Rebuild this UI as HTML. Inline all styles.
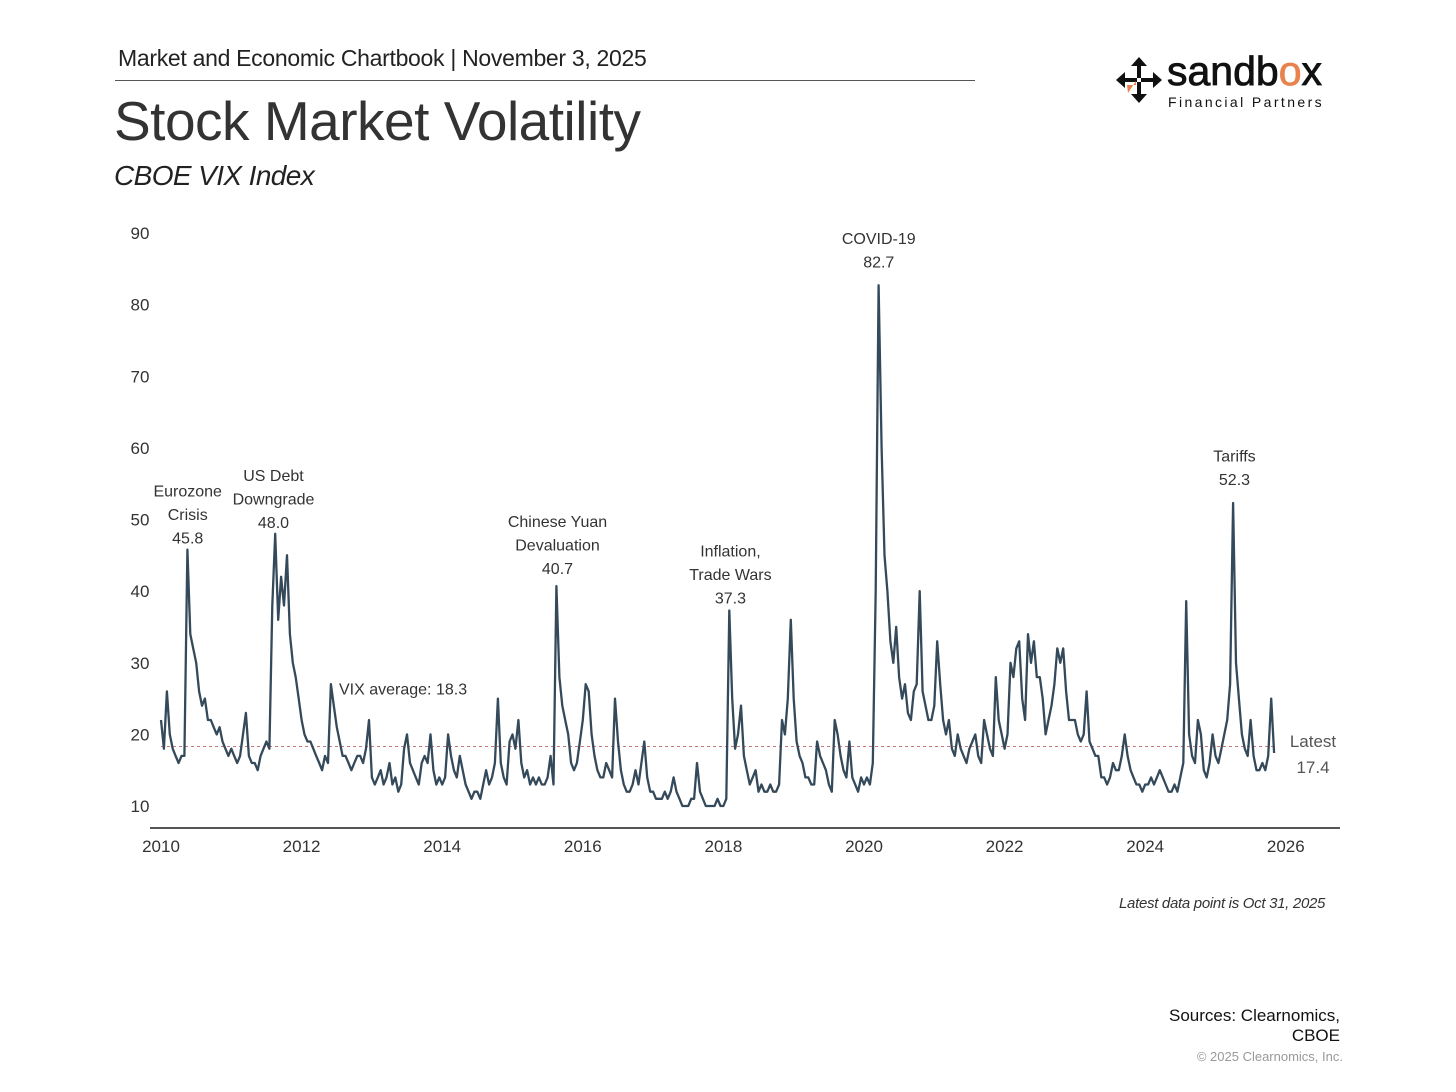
<!DOCTYPE html>
<html><head><meta charset="utf-8">
<style>
html,body{margin:0;padding:0;background:#fff;}
body{width:1456px;height:1092px;position:relative;overflow:hidden;font-family:"Liberation Sans",sans-serif;color:#333;}
.abs{position:absolute;white-space:nowrap;}
</style></head>
<body>
<div class="abs" style="left:118px;top:45px;font-size:23px;color:#222;letter-spacing:-0.3px;">Market and Economic Chartbook | November 3, 2025</div>
<div class="abs" style="left:115px;top:80px;width:860px;height:1px;background:#555;"></div>
<div class="abs" style="left:114px;top:89px;font-size:55px;color:#333;letter-spacing:-0.5px;">Stock Market Volatility</div>
<div class="abs" style="left:114px;top:160px;font-size:28px;font-style:italic;color:#222;letter-spacing:-0.6px;">CBOE VIX Index</div>

<div class="abs" style="left:1114px;top:55px;width:215px;height:60px;">
  <svg width="50" height="50" viewBox="0 0 50 50" style="position:absolute;left:0;top:0;">
    <g fill="#111">
      <polygon points="25,2 33,11 27,11 27,23 23,23 23,11 17,11"/>
      <polygon points="25,48 33,39 27,39 27,27 23,27 23,39 17,39"/>
      <polygon points="2,25 11,17 11,23 23,23 23,27 11,27 11,33"/>
      <polygon points="48,25 39,17 39,23 27,23 27,27 39,27 39,33"/>
    </g>
    <polygon points="13,30 22,30 22,26 14,38" fill="#e8834f"/>
  </svg>
  <div class="abs" style="left:53px;top:-7px;font-size:41px;color:#111;letter-spacing:0px;-webkit-text-stroke:0.8px #111;">sandb<span style="color:#e8834f;-webkit-text-stroke:0.8px #e8834f;">o</span>x</div>
  <div class="abs" style="left:54px;top:39px;font-size:14px;color:#111;letter-spacing:2.4px;">Financial Partners</div>
</div>

<svg id="chart" class="abs" style="left:0;top:0;" width="1456" height="1092"></svg>

<div class="abs" style="left:1119px;top:895px;font-size:15px;font-style:italic;color:#333;letter-spacing:-0.3px;">Latest data point is Oct 31, 2025</div>
<div class="abs" style="right:116px;top:1006px;font-size:17px;color:#111;text-align:right;line-height:20px;">Sources: Clearnomics,<br>CBOE</div>
<div class="abs" style="right:113px;top:1049px;font-size:13px;color:#999;">© 2025 Clearnomics, Inc.</div>

<script>
const yTicks = [10,20,30,40,50,60,70,80,90];
const xTicks = [2010,2012,2014,2016,2018,2020,2022,2024,2026];
const vixAverage = 18.3;
const latestValue = 17.4;
const v2010 = [22,18,26,20,18,17,16,17,17,45.8,34,32,30,26,24,25,22,22,21,20,21,19,18,17];
const v2011 = [18,17,16,17,20,23,17,16,16,15,17,18,19,18,38,48,36,42,38,45,34,30,28,25];
const v2012 = [22,20,19,19,18,17,16,15,17,16,27,24,21,19,17,17,16,15,16,17,17,16,18,22];
const v2013 = [14,13,14,15,13,14,16,13,14,12,13,18,20,16,15,14,13,16,17,16,20,15,13,14];
const v2014 = [13,14,20,17,15,14,17,15,13,12,11,12,12,11,13,15,13,14,16,25,16,14,13,19];
const v2015 = [20,18,22,16,14,15,13,14,13,14,13,13,14,17,13,40.7,28,24,22,20,16,15,16,19];
const v2016 = [22,27,26,20,17,15,14,14,16,15,14,25,19,15,13,12,12,13,15,13,16,19,14,12];
const v2017 = [12,11,11,11,12,11,12,14,12,11,10,10,10,11,11,16,12,11,10,10,10,10,11,10];
const v2018 = [10,11,37.3,25,18,20,24,17,15,13,14,15,12,13,12,12,13,12,12,13,22,20,25,36];
const v2019 = [25,19,17,16,14,14,13,13,19,17,16,15,13,12,22,20,17,15,14,19,14,13,12,14];
const v2020 = [13,14,13,16,40,82.7,60,45,40,33,30,35,28,25,27,23,22,26,27,40,26,24,22,22];
const v2021 = [24,33,27,22,20,22,18,17,20,18,17,16,18,19,20,17,16,22,20,18,17,28,22,20];
const v2022 = [18,20,30,28,32,33,25,22,34,30,33,28,28,25,20,22,24,27,32,30,32,26,22,22];
const v2023 = [22,20,19,20,26,19,18,17,17,14,14,13,14,16,15,15,17,20,17,15,14,13,13,12];
const v2024 = [13,13,14,13,14,15,14,13,12,12,13,12,14,16,38.6,20,17,16,22,20,15,14,16,20];
const v2025 = [17,16,18,20,22,27,52.3,30,25,20,18,17,22,17,15,15,16,15,17,25,17.4];
const years = [2010,2011,2012,2013,2014,2015,2016,2017,2018,2019,2020,2021,2022,2023,2024,2025];
const series = [v2010,v2011,v2012,v2013,v2014,v2015,v2016,v2017,v2018,v2019,v2020,v2021,v2022,v2023,v2024,v2025];
const annoLabels = [["Eurozone","Crisis","45.8"],["US Debt","Downgrade","48.0"],["Chinese Yuan","Devaluation","40.7"],["Inflation,","Trade Wars","37.3"],["COVID-19","82.7"],["Tariffs","52.3"]];
const annoX = [2010.38,2011.6,2015.64,2018.1,2020.21,2025.27];
const annoV = [45.8,48.0,40.7,37.3,82.7,52.3];
const annoGap = [6,6,12,7,18,18];

const NS="http://www.w3.org/2000/svg";
const svg=document.getElementById('chart');
const X=t=>161+(t-2010)*70.3;
const Y=v=>806-(v-10)*7.1625;
function mk(tag,attrs,parent){const e=document.createElementNS(NS,tag);for(const k in attrs)e.setAttribute(k,attrs[k]);(parent||svg).appendChild(e);return e;}

yTicks.forEach(t=>{
  const e=mk('text',{x:140,y:Y(t)+6,'text-anchor':'middle','font-size':17,fill:'#333','font-family':'Liberation Sans, sans-serif'});
  
  
  e.textContent=t;
});
xTicks.forEach(t=>{
  const e=mk('text',{x:X(t),y:852,'text-anchor':'middle','font-size':17,fill:'#333','font-family':'Liberation Sans, sans-serif'});
  
  
  e.textContent=t;
});
const axis=mk('line',{x1:150,x2:1340,y1:828,y2:828,stroke:'#555','stroke-width':2});



const avg=mk('line',{x1:X(2010),x2:X(2025.83),y1:Y(vixAverage),y2:Y(vixAverage),stroke:'#c77a7a','stroke-width':1,'stroke-dasharray':'3,3'});


const avgT=mk('text',{x:339,y:Y(27.5)+14,'font-size':16,fill:'#333','font-family':'Liberation Sans, sans-serif'});


avgT.textContent='VIX average: '+vixAverage;

let pts=[];
series.forEach((arr,yi)=>arr.forEach((v,i)=>pts.push(X(years[yi]+i/24).toFixed(1)+','+Y(v).toFixed(1))));
const line=mk('polyline',{points:pts.join(' '),fill:'none',stroke:'#34495a','stroke-width':2.3,'stroke-linejoin':'round'});



annoLabels.forEach((lines,k)=>{
  const n=lines.length;
  const g=mk('g',{});
  
  
  lines.forEach((s,j)=>{
    const t=mk('text',{x:X(annoX[k]),y:Y(annoV[k])-annoGap[k]-(n-1-j)*23.5,'text-anchor':'middle','font-size':16,fill:'#333','font-family':'Liberation Sans, sans-serif'},g);
    t.textContent=s;
  });
});
const lt=mk('g',{});


const l1=mk('text',{x:1313,y:747,'text-anchor':'middle','font-size':17,fill:'#555','font-family':'Liberation Sans, sans-serif'},lt);l1.textContent='Latest';
const l2=mk('text',{x:1313,y:773,'text-anchor':'middle','font-size':17,fill:'#555','font-family':'Liberation Sans, sans-serif'},lt);l2.textContent=latestValue;
</script>
</body></html>
